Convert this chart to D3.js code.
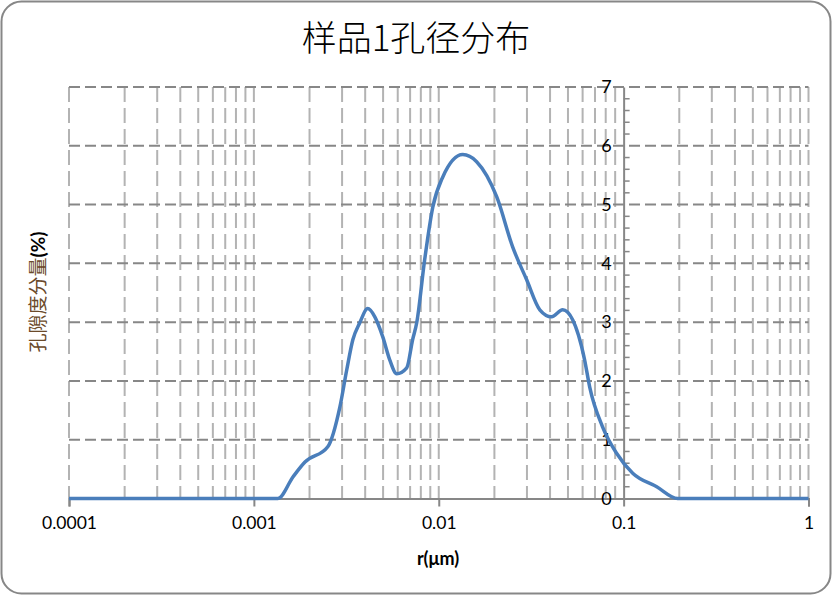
<!DOCTYPE html>
<html>
<head>
<meta charset="utf-8">
<script src="https://cdn.jsdelivr.net/npm/d3@7/dist/d3.min.js"></script>
<style>
  html, body { margin: 0; padding: 0; background: #fff; }
  svg { display: block; }
</style>
</head>
<body>
<svg id="chart" width="832" height="595"></svg>
<script>
// Pore radius (µm) and porosity component (%) for sample 1
const radius = [0.0001, 0.00135, 0.00163, 0.00189, 0.00251, 0.00292, 0.00318, 0.00343, 0.00374,
  0.00413, 0.00451, 0.00498, 0.00543, 0.00593, 0.00671, 0.00722, 0.0076, 0.00839, 0.00929,
  0.01052, 0.01349, 0.01603, 0.0206, 0.0251, 0.0299, 0.0352, 0.0408, 0.0468, 0.053, 0.0615,
  0.0655, 0.0769, 0.0916, 0.112, 0.151, 0.196, 1];
const porosity = [0, 0, 0.37, 0.62, 0.88, 1.56, 2.19, 2.70, 2.99,
  3.23, 3.09, 2.75, 2.36, 2.12, 2.22, 2.70, 2.99, 4.06, 4.96,
  5.47, 5.85, 5.73, 5.13, 4.28, 3.72, 3.21, 3.09, 3.21, 3.04, 2.36,
  1.90, 1.22, 0.77, 0.43, 0.20, 0, 0];

const xTickValues = [0.0001, 0.001, 0.01, 0.1, 1];
const xTickLabels = ["0.0001", "0.001", "0.01", "0.1", "1"];
const yTickValues = [0, 1, 2, 3, 4, 5, 6, 7];
const yTickLabels = ["0", "1", "2", "3", "4", "5", "6", "7"];

const titleText = "样品1孔径分布";
const xAxisTitle = "r(μm)";
const yAxisTitleMain = "孔隙度分量";
const yAxisTitleUnit = "(%)";

const svg = d3.select("#chart");
const W = 832, H = 595;
const tickFont = "Lato, 'Open Sans', sans-serif";

// outer frame
svg.append("rect")
  .attr("x", 1.5).attr("y", 1.5)
  .attr("width", W - 3).attr("height", H - 3)
  .attr("rx", 20).attr("ry", 20)
  .attr("fill", "#fff")
  .attr("stroke", "#878787").attr("stroke-width", 2);

const plot = { left: 69, right: 808.5, top: 87, bottom: 498.5 };

const x = d3.scaleLog().domain([0.0001, 1]).range([plot.left, plot.right]);
const y = d3.scaleLinear().domain([0, 7]).range([plot.bottom, plot.top]);

// vertical grid: every 1..9 multiple in each decade
const vGrid = [];
[0.0001, 0.001, 0.01, 0.1].forEach(d => {
  for (let k = 1; k <= 9; k++) vGrid.push(+(d * k).toPrecision(3));
});
vGrid.push(1);

svg.append("g")
  .selectAll("line")
  .data(vGrid.filter(v => v !== 0.1))
  .join("line")
  .attr("x1", d => x(d)).attr("x2", d => x(d))
  .attr("y1", plot.top).attr("y2", plot.bottom)
  .attr("stroke", "#b3b3b3")
  .attr("stroke-width", 2)
  .attr("stroke-dasharray", "15,6");

// horizontal grid at each integer
svg.append("g")
  .selectAll("line")
  .data(yTickValues.filter(v => v > 0))
  .join("line")
  .attr("x1", plot.left).attr("x2", plot.right)
  .attr("y1", d => y(d)).attr("y2", d => y(d))
  .attr("stroke", "#878787")
  .attr("stroke-width", 2)
  .attr("stroke-dasharray", "11,5");

// x axis at y = 0
const xAxis = d3.axisBottom(x)
  .tickValues(xTickValues)
  .tickFormat((d, i) => xTickLabels[i])
  .tickSize(8)
  .tickPadding(10);
const gx = svg.append("g")
  .attr("transform", `translate(0,${plot.bottom})`)
  .call(xAxis);
gx.select(".domain").attr("stroke", "#878787").attr("stroke-width", 2);
gx.selectAll(".tick line").attr("stroke", "#878787").attr("stroke-width", 2);
gx.selectAll(".tick text")
  .attr("fill", "#000")
  .attr("font-family", tickFont)
  .attr("font-size", 17.5);

// y axis crosses at r = 0.1
const yAxis = d3.axisLeft(y)
  .tickValues(yTickValues)
  .tickFormat((d, i) => yTickLabels[i])
  .tickSize(0)
  .tickPadding(12);
const gy = svg.append("g")
  .attr("transform", `translate(${x(0.1)},0)`)
  .call(yAxis);
gy.select(".domain").attr("stroke", "#878787").attr("stroke-width", 2);
gy.selectAll(".tick text")
  .attr("fill", "#000")
  .attr("font-family", tickFont)
  .attr("font-size", 18);

// minor ticks on the y axis, every 0.2
const yMinor = d3.range(0, 35).map(i => i / 5).filter(v => Math.abs(v - Math.round(v)) > 1e-6);
gy.append("g")
  .selectAll("line")
  .data(yMinor)
  .join("line")
  .attr("x1", 0).attr("x2", 6)
  .attr("y1", d => y(d)).attr("y2", d => y(d))
  .attr("stroke", "#878787")
  .attr("stroke-width", 1.5);

// distribution curve
const pts = radius.map((r, i) => [r, porosity[i]]);
const line = d3.line()
  .x(d => x(d[0]))
  .y(d => y(d[1]))
  .curve(d3.curveMonotoneX);
svg.append("path")
  .datum(pts)
  .attr("d", line)
  .attr("fill", "none")
  .attr("stroke", "#4a7ebb")
  .attr("stroke-width", 3.5)
  .attr("stroke-linejoin", "round");

// title
svg.append("text")
  .attr("x", 416).attr("y", 51)
  .attr("text-anchor", "middle")
  .attr("font-family", "'Noto Sans CJK SC', sans-serif")
  .attr("font-size", 35)
  .attr("font-weight", 300)
  .attr("fill", "#000")
  .text(titleText);

// x axis title
svg.append("text")
  .attr("x", 438).attr("y", 565)
  .attr("text-anchor", "middle")
  .attr("font-family", tickFont)
  .attr("font-size", 18)
  .attr("font-weight", "bold")
  .attr("fill", "#000")
  .text(xAxisTitle);

// y axis title
const yt = svg.append("text")
  .attr("transform", "translate(45,292) rotate(-90)")
  .attr("text-anchor", "middle")
  .attr("font-size", 19);
yt.append("tspan")
  .attr("font-family", "'Noto Sans CJK SC', sans-serif")
  .attr("fill", "#6b4a2a")
  .text(yAxisTitleMain);
yt.append("tspan")
  .attr("font-family", tickFont)
  .attr("font-weight", "bold")
  .attr("fill", "#000")
  .text(yAxisTitleUnit);
</script>
</body>
</html>
